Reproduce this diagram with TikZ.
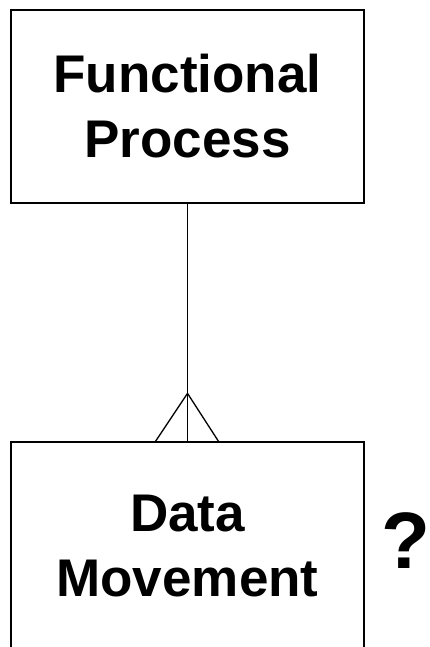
\documentclass[tikz,border=0pt]{standalone}
\usepackage{fontspec}
\setmainfont{Liberation Sans}
\usetikzlibrary{calc}
\begin{document}
\begin{tikzpicture}[x=1pt,y=-1pt,
  entity/.style={draw=black,line width=1.3pt,rectangle,inner sep=0pt,
    font=\bfseries\fontsize{53}{65}\selectfont,align=center},
  link/.style={draw=black,line width=1.3pt}]
\useasboundingbox (0,0) rectangle (430,647);
\node[entity,minimum width=353pt,minimum height=193pt] (fp) at (187.5,106.5) {Functional\\Process};
\node[entity,minimum width=353pt,minimum height=208pt] (dm) at (187.5,546) {Data\\Movement};
\node[font=\bfseries\fontsize{80}{90}\selectfont,anchor=base,inner sep=0pt] (q) at (406,568) {?};
\coordinate (apex) at ($(dm.north)+(0,-48)$);
\draw[link] (fp.south) -- (dm.north);
\draw[link] ($(dm.north)+(-32,0)$) -- (apex) -- ($(dm.north)+(31,0)$);
\end{tikzpicture}
\end{document}
